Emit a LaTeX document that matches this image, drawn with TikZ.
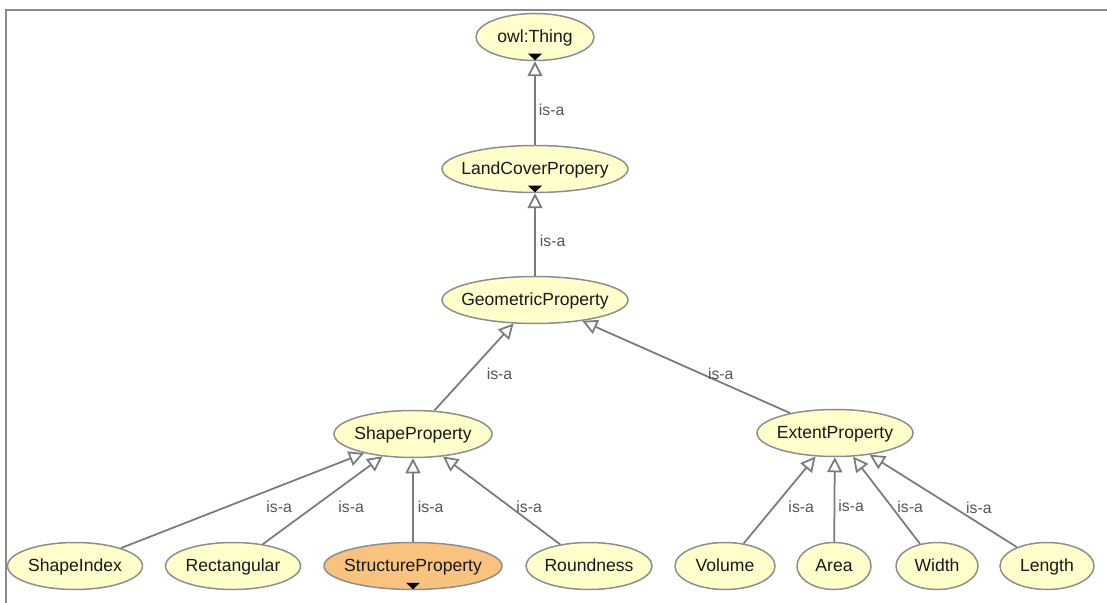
\documentclass[tikz,border=0pt]{standalone}
\usepackage{fontspec}
\setmainfont{Liberation Sans}
\usetikzlibrary{shapes.geometric,arrows.meta,calc}

\definecolor{classfill}{HTML}{FFFFCC}
\definecolor{selfill}{HTML}{F9C27F}
\definecolor{rimgray}{HTML}{8E8E8E}
\definecolor{edgegray}{HTML}{7A7A7A}
\definecolor{labelgray}{HTML}{555555}
\definecolor{framegray}{HTML}{8A8A8A}

\tikzset{
  cls/.style={ellipse, draw=rimgray, line width=0.3mm, fill=classfill,
    minimum height=9.4mm, inner xsep=-10mm, inner ysep=0pt,
    text height=7.2pt, text depth=1.2pt,
    font=\fontsize{10}{12}\selectfont, text=black!90},
  isa/.style={draw=edgegray, line width=0.35mm,
    -{Triangle[open, length=3mm, width=3mm, fill=white]}},
  isalbl/.style={midway, anchor=north west, inner sep=0pt,
    font=\fontsize{9}{10}\selectfont, text=labelgray},
}

\begin{document}
\begin{tikzpicture}[x=0.2mm, y=-0.2mm]
  \useasboundingbox (0,0) rectangle (1107,603);
  \draw[framegray, line width=0.4mm] (6,603) -- (6,10) -- (1107,10);

  % class hierarchy
  \node[cls, minimum width=23.6mm] (thing)     at (535,37)  {owl:Thing};
  \node[cls, minimum width=37.2mm] (landcover) at (535,169) {LandCoverPropery};
  \node[cls, minimum width=37.2mm] (geometric) at (535,300) {GeometricProperty};
  \node[cls, minimum width=31.6mm] (shape)     at (413,434) {ShapeProperty};
  \node[cls, minimum width=31.2mm] (extent)    at (835,433) {ExtentProperty};

  \node[cls, minimum width=27mm]   (shapeindex)  at (75,566)  {ShapeIndex};
  \node[cls, minimum width=27mm]   (rectangular) at (233,566) {Rectangular};
  \node[cls, minimum width=35.6mm, fill=selfill] (structure) at (413,566) {StructureProperty};
  \node[cls, minimum width=25.2mm] (roundness)   at (589,566) {Roundness};
  \node[cls, minimum width=20mm]   (volume)      at (725,566) {Volume};
  \node[cls, minimum width=14.8mm] (area)        at (834,566) {Area};
  \node[cls, minimum width=16.4mm] (width)       at (937,566) {Width};
  \node[cls, minimum width=18.8mm] (length)      at (1047,566) {Length};

  % expand markers
  \foreach \n in {thing,landcover,structure}
    \fill ($(\n.south)+(-7,-7.5)$) -- ($(\n.south)+(7,-7.5)$) -- ($(\n.south)+(0,-1)$) -- cycle;

  % is-a links
  \draw[isa] (landcover) -- (thing)     node[isalbl, xshift=0.6mm] {is-a};
  \draw[isa] (geometric) -- (landcover) node[isalbl, xshift=0.8mm] {is-a};
  \draw[isa] (shape)  -- (geometric) node[isalbl, xshift=2.4mm] {is-a};
  \draw[isa] (extent) -- (geometric) node[isalbl, xshift=4.2mm] {is-a};

  \draw[isa] (shapeindex)  -- (shape) node[isalbl, xshift=4.6mm] {is-a};
  \draw[isa] (rectangular) -- (shape) node[isalbl, xshift=3mm]   {is-a};
  \draw[isa] (structure)   -- (shape) node[isalbl, xshift=0.8mm] {is-a};
  \draw[isa] (roundness)   -- (shape) node[isalbl, xshift=2.8mm] {is-a};

  \draw[isa] (volume) -- (extent) node[isalbl, xshift=1.6mm] {is-a};
  \draw[isa] (area)   -- (extent) node[isalbl, xshift=0.6mm] {is-a};
  \draw[isa] (width)  -- (extent) node[isalbl, xshift=2mm]   {is-a};
  \draw[isa] (length) -- (extent) node[isalbl, xshift=4.4mm] {is-a};
\end{tikzpicture}
\end{document}
